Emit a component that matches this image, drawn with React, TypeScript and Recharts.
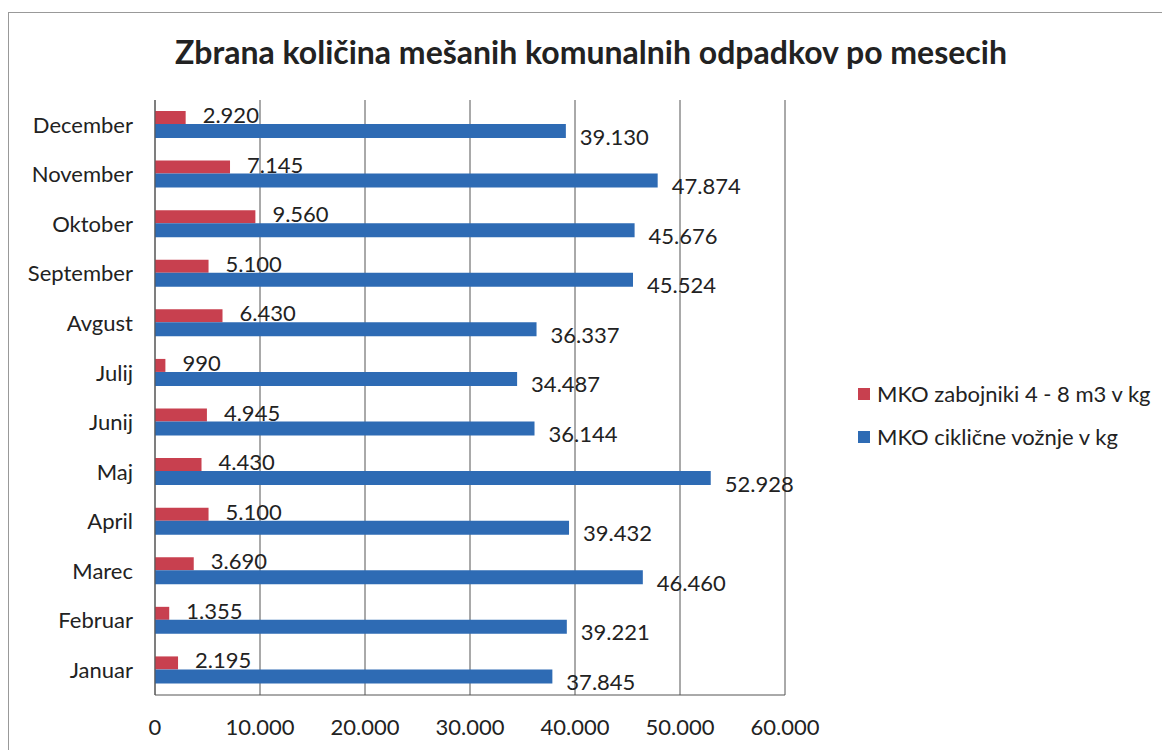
import React from "react";
import { BarChart, Bar, XAxis, YAxis, CartesianGrid, LabelList } from "recharts";

document.body.style.margin = "0";

const months = ["Januar", "Februar", "Marec", "April", "Maj", "Junij", "Julij", "Avgust", "September", "Oktober", "November", "December"];
const zabojniki = [2195, 1355, 3690, 5100, 4430, 4945, 990, 6430, 5100, 9560, 7145, 2920];
const ciklicne = [37845, 39221, 46460, 39432, 52928, 36144, 34487, 36337, 45524, 45676, 47874, 39130];
const xTicks = [0, 10000, 20000, 30000, 40000, 50000, 60000];

const RED = "#C8404F";
const BLUE = "#2E6BB4";
const FONT = "Lato, 'Open Sans', sans-serif";

const data = months.map((m, i) => ({ month: m, zab: zabojniki[i], cik: ciklicne[i] }));

const fmt = (n: number) => String(n).replace(/\B(?=(\d{3})+(?!\d))/g, ".");

const makeLabel = (dx: number, dy: number) => (props: any) => {
  const { x, y, width, height, value } = props;
  return (
    <text
      x={x + width + dx}
      y={y + height / 2 + dy}
      dominantBaseline="middle"
      fontSize={22}
      fontFamily={FONT}
      fill="#222"
    >
      {fmt(value)}
    </text>
  );
};

const legendItems = [
  { name: "MKO zabojniki 4 - 8 m3 v kg", color: RED },
  { name: "MKO ciklične vožnje v kg", color: BLUE },
];

export default function App() {
  return (
    <div style={{ position: "relative", width: 1162, height: 750, overflow: "hidden", background: "#fff" }}>
      <div style={{ position: "absolute", left: 8, top: 12, width: 1300, height: 900, border: "1px solid #999" }} />
      <div
        style={{
          position: "absolute",
          top: 32,
          left: 0,
          width: 1182,
          textAlign: "center",
          fontFamily: FONT,
          fontWeight: 700,
          fontSize: 32,
          color: "#222",
        }}
      >
        Zbrana količina mešanih komunalnih odpadkov po mesecih
      </div>
      <BarChart
        width={1162}
        height={750}
        data={data}
        layout="vertical"
        margin={{ top: 100, right: 377, bottom: 25, left: 8 }}
        barGap={0}
        style={{ position: "absolute", left: 0, top: 0 }}
      >
        <CartesianGrid horizontal={false} stroke="#555" />
        <XAxis
          type="number"
          domain={[0, 60000]}
          ticks={xTicks}
          tickFormatter={fmt}
          tickSize={0}
          tickMargin={24}
          axisLine={{ stroke: "#555" }}
          tick={{ fontSize: 22, fontFamily: FONT, fill: "#222" }}
        />
        <YAxis
          type="category"
          dataKey="month"
          reversed
          width={147}
          tickSize={0}
          tickMargin={22}
          axisLine={{ stroke: "#555" }}
          tick={{ fontSize: 22, fontFamily: FONT, fill: "#222" }}
        />
        <Bar dataKey="zab" name="MKO zabojniki 4 - 8 m3 v kg" fill={RED} barSize={13} isAnimationActive={false}>
          <LabelList dataKey="zab" content={makeLabel(17, 0)} />
        </Bar>
        <Bar dataKey="cik" name="MKO ciklične vožnje v kg" fill={BLUE} barSize={14} isAnimationActive={false}>
          <LabelList dataKey="cik" content={makeLabel(14, 8)} />
        </Bar>
      </BarChart>
      <div style={{ position: "absolute", left: 858, top: 372, fontFamily: FONT, fontSize: 22, color: "#222" }}>
        {legendItems.map((it) => (
          <div key={it.name} style={{ display: "flex", alignItems: "center", height: 43 }}>
            <span style={{ width: 12, height: 12, background: it.color, display: "inline-block", marginRight: 7 }} />
            {it.name}
          </div>
        ))}
      </div>
    </div>
  );
}
